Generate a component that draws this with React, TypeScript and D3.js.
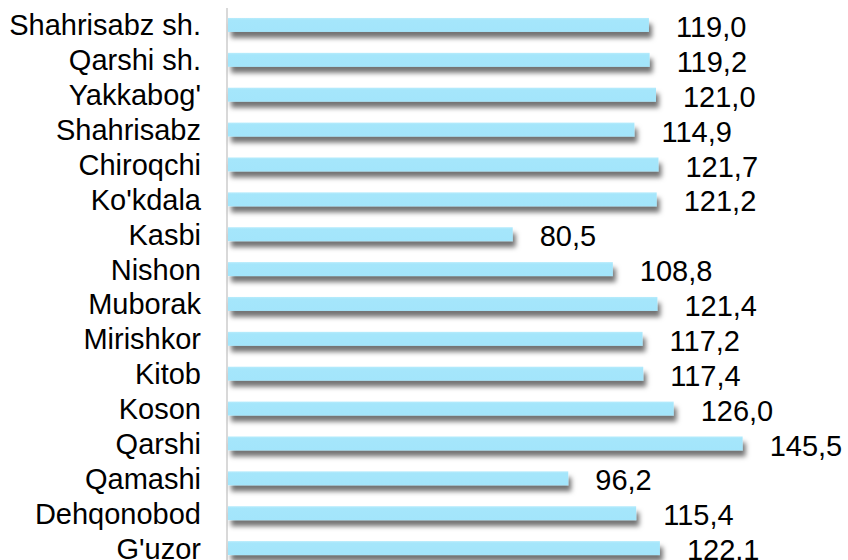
import { useEffect, useRef } from "react";
import * as d3 from "d3";

const districts = [
  "Shahrisabz sh.",
  "Qarshi sh.",
  "Yakkabog'",
  "Shahrisabz",
  "Chiroqchi",
  "Ko'kdala",
  "Kasbi",
  "Nishon",
  "Muborak",
  "Mirishkor",
  "Kitob",
  "Koson",
  "Qarshi",
  "Qamashi",
  "Dehqonobod",
  "G'uzor",
];

const values = [
  119.0, 119.2, 121.0, 114.9, 121.7, 121.2, 80.5, 108.8, 121.4, 117.2, 117.4,
  126.0, 145.5, 96.2, 115.4, 122.1,
];

const W = 848;
const H = 560;

export default function App() {
  const svgRef = useRef<SVGSVGElement>(null);

  useEffect(() => {
    const svg = d3.select(svgRef.current);
    svg.selectAll("*").remove();

    const data = districts.map((name, i) => ({ name, value: values[i] }));

    const x = d3.scaleLinear().domain([0, 175]).range([228, 847]);
    const y = d3
      .scaleBand()
      .domain(districts)
      .range([7.5, 565.5])
      .paddingInner(0.6)
      .paddingOuter(0.3);

    const defs = svg.append("defs");
    const shadow = defs.append("filter").attr("id", "barShadow")
      .attr("x", "-5%").attr("y", "-50%").attr("width", "115%").attr("height", "250%");
    shadow.append("feDropShadow")
      .attr("dx", 3)
      .attr("dy", 6)
      .attr("stdDeviation", 2.5)
      .attr("flood-color", "#000")
      .attr("flood-opacity", 0.55);

    const grad = defs.append("linearGradient").attr("id", "barFill")
      .attr("x1", 0).attr("y1", 0).attr("x2", 0).attr("y2", 1);
    grad.append("stop").attr("offset", "0%").attr("stop-color", "#b8ecfc");
    grad.append("stop").attr("offset", "15%").attr("stop-color", "#a5e6fb");
    grad.append("stop").attr("offset", "100%").attr("stop-color", "#a3e5fb");

    // axis line
    svg.append("line")
      .attr("x1", x(0) - 1).attr("x2", x(0) - 1)
      .attr("y1", 8).attr("y2", H)
      .attr("stroke", "#d9d9d9")
      .attr("stroke-width", 2);

    svg.selectAll(".bar")
      .data(data)
      .enter()
      .append("rect")
      .attr("class", "bar")
      .attr("x", x(0))
      .attr("y", (d) => y(d.name) || 0)
      .attr("width", (d) => x(d.value) - x(0))
      .attr("height", y.bandwidth())
      .attr("fill", "url(#barFill)")
      .attr("filter", "url(#barShadow)");

    const fmt = d3.format(".1f");
    const font = "'Liberation Sans', Arial, sans-serif";

    svg.selectAll(".val")
      .data(data)
      .enter()
      .append("text")
      .attr("class", "val")
      .attr("x", (d) => x(d.value) + 27)
      .attr("y", (d) => (y(d.name) || 0) + y.bandwidth() / 2)
      .attr("dy", "0.42em")
      .attr("font-family", font)
      .attr("font-size", 29)
      .attr("fill", "#000")
      .text((d) => fmt(d.value).replace(".", ","));

    svg.selectAll(".lbl")
      .data(data)
      .enter()
      .append("text")
      .attr("class", "lbl")
      .attr("x", 201)
      .attr("y", (d) => (y(d.name) || 0) + y.bandwidth() / 2)
      .attr("dy", "0.36em")
      .attr("text-anchor", "end")
      .attr("font-family", font)
      .attr("font-size", 29)
      .attr("fill", "#000")
      .text((d) => d.name);
  }, []);

  return (
    <svg
      ref={svgRef}
      width={W}
      height={H}
      style={{ position: "absolute", left: 0, top: 0, background: "#fff" }}
    />
  );
}
